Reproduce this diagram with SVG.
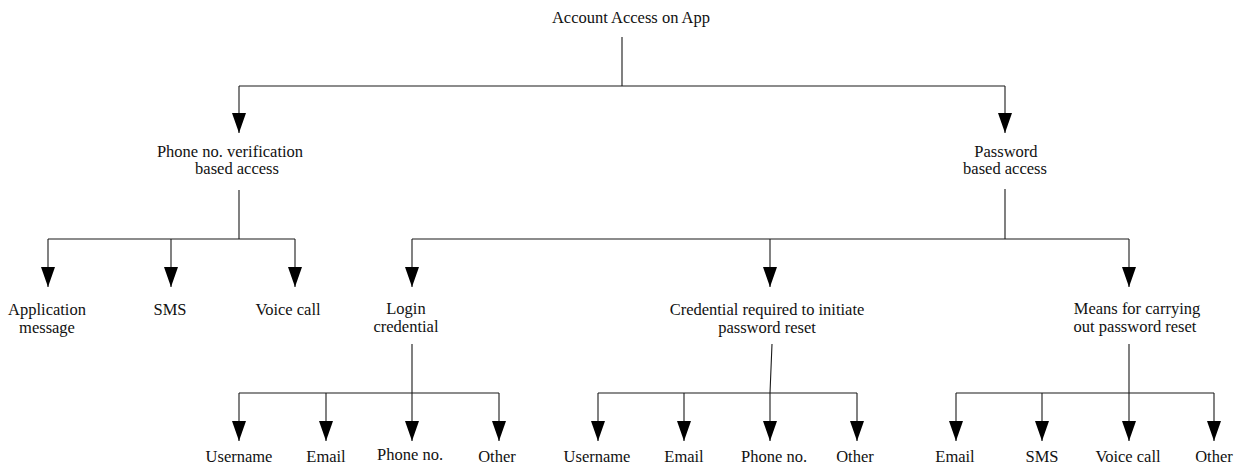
<svg xmlns="http://www.w3.org/2000/svg" width="1242" height="468" viewBox="0 0 1242 468">
  <style>
    .lbl { font-family: "Liberation Serif", "Times New Roman", serif; font-size: 16.5px; fill: #111; text-anchor: middle; }
    .ln { stroke: #1a1a1a; stroke-width: 1.1; fill: none; }
    .arr { stroke: #1a1a1a; stroke-width: 1.1; fill: none; marker-end: url(#head); }
  </style>
  <defs>
    <marker id="head" viewBox="0 0 20 14" markerWidth="20" markerHeight="14" refX="20" refY="7" orient="auto" markerUnits="userSpaceOnUse">
      <path d="M0,0 L20,7 L0,14 z" fill="#000"/>
    </marker>
  </defs>
  <rect width="1242" height="468" fill="#fff"/>

  <g id="connectors">
    <!-- root to first level -->
    <path class="ln" d="M622,37 V86 M239,86 H1005"/>
    <path class="arr" d="M239,86 V133"/>
    <path class="arr" d="M1005,86 V133"/>
    <!-- phone verification branch -->
    <path class="ln" d="M239,190 V239 M48,239 H295"/>
    <path class="arr" d="M48,239 V287"/>
    <path class="arr" d="M171,239 V287"/>
    <path class="arr" d="M295,239 V287"/>
    <!-- password branch -->
    <path class="ln" d="M1005,189 V239 M412,239 H1129"/>
    <path class="arr" d="M412,239 V287"/>
    <path class="arr" d="M770,239 V287"/>
    <path class="arr" d="M1129,239 V287"/>
    <!-- login credential -->
    <path class="ln" d="M412,344 V393 M239,393 H499"/>
    <path class="arr" d="M239,393 V441"/>
    <path class="arr" d="M326,393 V441"/>
    <path class="arr" d="M412,393 V441"/>
    <path class="arr" d="M499,393 V441"/>
    <!-- reset credential -->
    <path class="ln" d="M772,344 L770,393 M598,393 H857"/>
    <path class="arr" d="M598,393 V441"/>
    <path class="arr" d="M684,393 V441"/>
    <path class="arr" d="M770,393 V441"/>
    <path class="arr" d="M857,393 V441"/>
    <!-- reset means -->
    <path class="ln" d="M1129,344 V393 M956,393 H1214"/>
    <path class="arr" d="M956,393 V441"/>
    <path class="arr" d="M1042,393 V441"/>
    <path class="arr" d="M1129,393 V441"/>
    <path class="arr" d="M1214,393 V441"/>
  </g>

  <g id="root"><text class="lbl" x="631" y="23">Account Access on App</text></g>

  <g id="phone-access">
    <text class="lbl" x="230" y="157">Phone no. verification</text>
    <text class="lbl" x="237" y="174">based access</text>
  </g>
  <g id="password-access">
    <text class="lbl" x="1006" y="157">Password</text>
    <text class="lbl" x="1005" y="174">based access</text>
  </g>

  <g id="app-message">
    <text class="lbl" x="47" y="315">Application</text>
    <text class="lbl" x="47" y="333">message</text>
  </g>
  <g id="phone-sms"><text class="lbl" x="170" y="315">SMS</text></g>
  <g id="phone-voice"><text class="lbl" x="288" y="315">Voice call</text></g>

  <g id="login-credential">
    <text class="lbl" x="406" y="314">Login</text>
    <text class="lbl" x="406" y="332">credential</text>
  </g>
  <g id="reset-credential">
    <text class="lbl" x="767" y="315">Credential required to initiate</text>
    <text class="lbl" x="767" y="333">password reset</text>
  </g>
  <g id="reset-means">
    <text class="lbl" x="1137" y="314">Means for carrying</text>
    <text class="lbl" x="1135" y="332">out password reset</text>
  </g>

  <g id="login-username"><text class="lbl" x="239" y="462">Username</text></g>
  <g id="login-email"><text class="lbl" x="326" y="462">Email</text></g>
  <g id="login-phone"><text class="lbl" x="410" y="460">Phone no.</text></g>
  <g id="login-other"><text class="lbl" x="497" y="462">Other</text></g>

  <g id="reset-username"><text class="lbl" x="597" y="462">Username</text></g>
  <g id="reset-email"><text class="lbl" x="684" y="462">Email</text></g>
  <g id="reset-phone"><text class="lbl" x="774" y="462">Phone no.</text></g>
  <g id="reset-other"><text class="lbl" x="855" y="462">Other</text></g>

  <g id="means-email"><text class="lbl" x="955" y="462">Email</text></g>
  <g id="means-sms"><text class="lbl" x="1042" y="462">SMS</text></g>
  <g id="means-voice"><text class="lbl" x="1128" y="462">Voice call</text></g>
  <g id="means-other"><text class="lbl" x="1214" y="462">Other</text></g>
</svg>
